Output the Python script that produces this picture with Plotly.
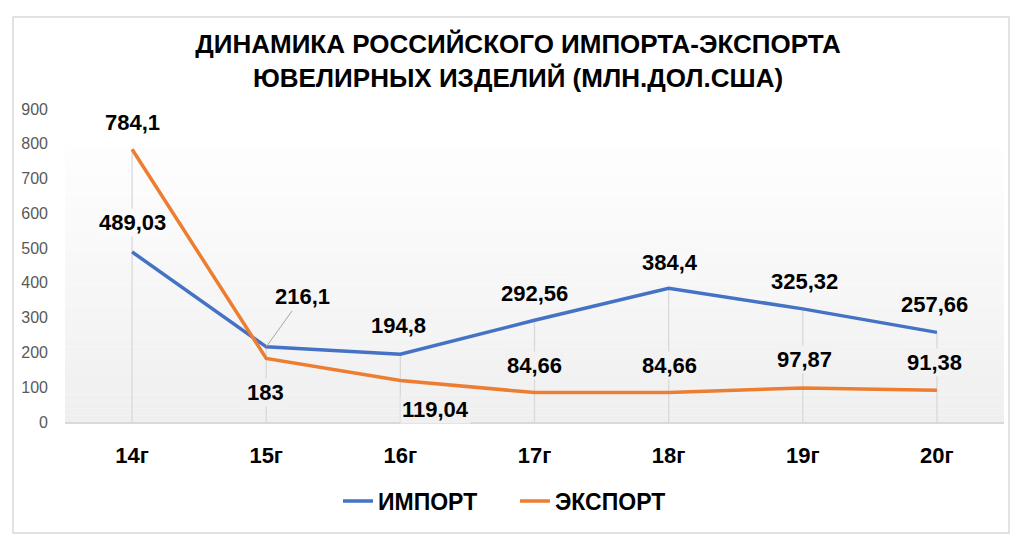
import plotly.graph_objects as go

categories = ["14г", "15г", "16г", "17г", "18г", "19г", "20г"]
import_vals = [489.03, 216.1, 194.8, 292.56, 384.4, 325.32, 257.66]
export_vals = [784.1, 183, 119.04, 84.66, 84.66, 97.87, 91.38]
import_labels = ["489,03", "216,1", "194,8", "292,56", "384,4", "325,32", "257,66"]
export_labels = ["784,1", "183", "119,04", "84,66", "84,66", "97,87", "91,38"]
y_ticks = [0, 100, 200, 300, 400, 500, 600, 700, 800, 900]

# label offsets (pixels) - styling only
imp_shift = [(0, 29), None, (-2, 29), (0, 27), (1, 26), (2, 27), (-2, 28)]
exp_shift = [(0, 27), (-1, -34), (35, -29), (0, 27), (1, 27), (2, 28), (-2, 28)]

BLUE = "#4472C4"
ORANGE = "#ED7D31"
GRID = "#d9d9d9"
FAM = "Liberation Sans, Arial, sans-serif"
LABEL_FONT = dict(family=FAM, size=22, color="#000000")

# layout geometry
W, H = 1029, 556
ML, MR, MT, MB = 65, 25, 109, 134
PH = H - MT - MB
PW = W - ML - MR
YMAX = 900
GRAD_TOP_PX = 147


def px_of(v):
    return MT + PH * (1 - v / YMAX)


def grad_color(ypx):
    if ypx <= GRAD_TOP_PX:
        return "rgb(255,255,255)"
    t = min(1.0, (ypx - GRAD_TOP_PX) / (MT + PH - GRAD_TOP_PX))
    c = round(254 - t * 15)
    return f"rgb({c},{c},{c})"


fig = go.Figure()

# drop lines from the highest point to the axis
dx, dy = [], []
for c, a, b in zip(categories, import_vals, export_vals):
    dx += [c, c, None]
    dy += [0, max(a, b), None]
fig.add_trace(go.Scatter(x=dx, y=dy, mode="lines", line=dict(color=GRID, width=1.3),
                         showlegend=False, hoverinfo="skip"))

fig.add_trace(go.Scatter(x=categories, y=import_vals, mode="lines", name="ИМПОРТ",
                         line=dict(color=BLUE, width=3.5)))
fig.add_trace(go.Scatter(x=categories, y=export_vals, mode="lines", name="ЭКСПОРТ",
                         line=dict(color=ORANGE, width=3.5)))

annotations = []
for i, c in enumerate(categories):
    if imp_shift[i] is None:
        annotations.append(dict(x=c, y=import_vals[i], text=import_labels[i], showarrow=True,
                                ax=36, ay=-50, arrowhead=0, arrowwidth=1, arrowcolor="#a6a6a6",
                                standoff=0, font=LABEL_FONT))
    else:
        sx, sy = imp_shift[i]
        annotations.append(dict(x=c, y=import_vals[i], text=import_labels[i], showarrow=False,
                                xshift=sx, yshift=sy, font=LABEL_FONT,
                                bgcolor=grad_color(px_of(import_vals[i]) - sy)))
    sx, sy = exp_shift[i]
    annotations.append(dict(x=c, y=export_vals[i], text=export_labels[i], showarrow=False,
                            xshift=sx, yshift=sy, font=LABEL_FONT,
                            bgcolor=grad_color(px_of(export_vals[i]) - sy)))

shapes = []
top_frac = (MT + PH - GRAD_TOP_PX) / PH
N = 40
for k in range(N):
    y0 = top_frac * k / N
    y1 = top_frac * (k + 1) / N
    ypx = MT + PH * (1 - (y0 + y1) / 2)
    shapes.append(dict(type="rect", xref="x domain", yref="y domain", x0=0, x1=1, y0=y0, y1=y1,
                       fillcolor=grad_color(ypx), line=dict(width=0), layer="below"))
shapes.append(dict(type="rect", xref="paper", yref="paper",
                   x0=(13 - ML) / PW, x1=(1009 - ML) / PW,
                   y0=(MT + PH - 533) / PH, y1=(MT + PH - 17) / PH,
                   line=dict(color=GRID, width=1.5), fillcolor="rgba(0,0,0,0)", layer="below"))

fig.update_layout(
    width=W, height=H,
    margin=dict(l=ML, r=MR, t=MT, b=MB),
    paper_bgcolor="white", plot_bgcolor="rgba(0,0,0,0)",
    title=dict(text="ДИНАМИКА РОССИЙСКОГО ИМПОРТА-ЭКСПОРТА<br>ЮВЕЛИРНЫХ ИЗДЕЛИЙ (МЛН.ДОЛ.США)",
               x=518 / W, xanchor="center", y=1 - 53 / H, yanchor="middle",
               font=dict(family=FAM, size=26, color="#000000")),
    showlegend=True,
    legend=dict(orientation="h", x=(515 - ML) / PW, xanchor="center",
                y=(MT + PH - 501) / PH, yanchor="middle",
                entrywidth=132, entrywidthmode="pixels",
                font=dict(family=FAM, size=23, color="#000000"),
                bgcolor="rgba(0,0,0,0)"),
    annotations=annotations,
    shapes=shapes,
    hovermode=False,
)
fig.update_xaxes(type="category", range=[-0.5, len(categories) - 0.5], showgrid=False,
                 showline=True, linecolor=GRID, linewidth=1.5, ticks="", zeroline=False,
                 tickfont=dict(family=FAM, size=22, color="#000000"),
                 ticklabelstandoff=13)
fig.update_yaxes(range=[0, YMAX], tickvals=y_ticks, showgrid=False, zeroline=False,
                 showline=False, ticks="",
                 tickfont=dict(family=FAM, size=16, color="#595959"),
                 ticklabelstandoff=16)

fig.update_layout(title_font_weight="bold", legend_font_weight="bold")
fig.update_xaxes(tickfont_weight="bold")
for a in fig.layout.annotations:
    a.font.weight = "bold"

fig.write_html("out.html")
